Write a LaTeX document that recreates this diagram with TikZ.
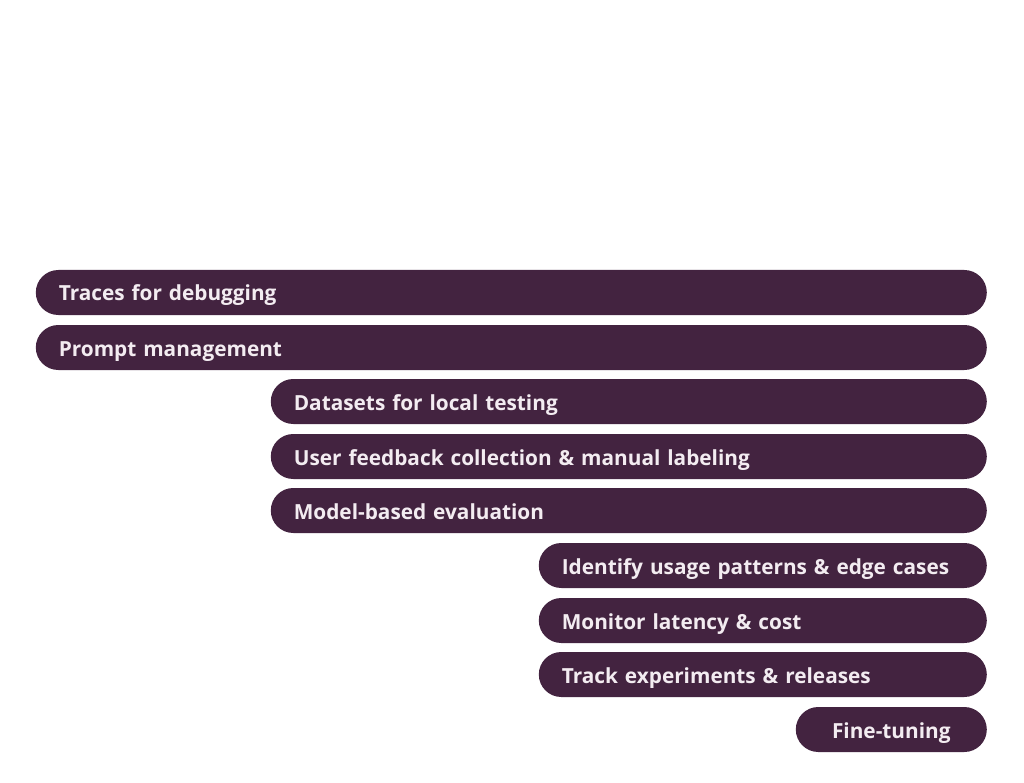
\documentclass[tikz,border=0pt]{standalone}
\usepackage{fontspec}
\setmainfont{Open Sans}
\usetikzlibrary{positioning}
\definecolor{barplum}{HTML}{432340}
\definecolor{bartxt}{HTML}{F3ECF1}
\begin{document}
\begin{tikzpicture}[x=1pt,y=1pt,font=\fontsize{20.8}{24}\selectfont\bfseries]
\tikzstyle{bar}=[fill=barplum,text=bartxt,rounded corners=22.5pt,minimum height=45pt,inner xsep=23pt,inner ysep=0pt,text height=17.5pt,text depth=0.5pt,anchor=east,align=left]
\useasboundingbox (0,0) rectangle (1024,-783);
\node[bar,text width=905pt] (n1) at (987,-292.5) {Traces for debugging};
\node[bar,text width=905pt] (n2) at (987,-347.5) {Prompt management};
\node[bar,text width=670pt] (n3) at (987,-401.5) {Datasets for local testing};
\node[bar,text width=670pt] (n4) at (987,-456.5) {User feedback collection \& manual labeling};
\node[bar,text width=670pt] (n5) at (987,-510.5) {Model-based evaluation};
\node[bar,text width=402pt] (n6) at (987,-565.5) {Identify usage patterns \& edge cases};
\node[bar,text width=402pt] (n7) at (987,-620.5) {Monitor latency \& cost};
\node[bar,text width=402pt] (n8) at (987,-674.5) {Track experiments \& releases};
\node[bar,text width=145pt,align=center] (n9) at (987,-729.5) {Fine-tuning};
\end{tikzpicture}
\end{document}
